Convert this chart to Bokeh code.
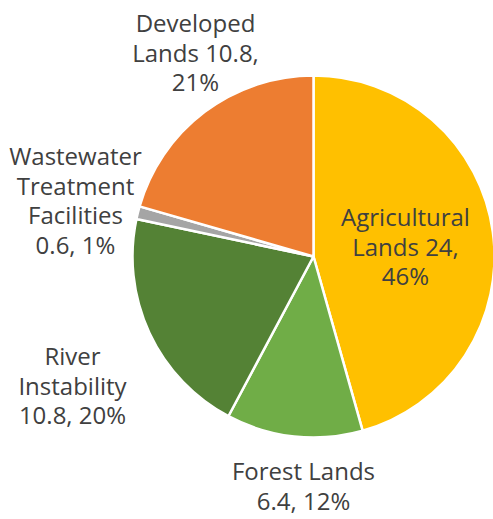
import numpy as np
from bokeh.plotting import figure
from bokeh.models import Range1d, ColumnDataSource
from bokeh.core.properties import value
from bokeh.embed import file_html
from bokeh.resources import INLINE

# ---- data ----
categories = ["Agricultural Lands", "Forest Lands", "River Instability",
              "Wastewater Treatment Facilities", "Developed Lands"]
values = [24, 6.4, 10.8, 0.6, 10.8]
percent_labels = ["46%", "12%", "20%", "1%", "21%"]
colors = ["#FFC000", "#70AD47", "#548235", "#A5A5A5", "#ED7D31"]
label_lines = [
    ["Agricultural", "Lands 24,", "46%"],
    ["Forest Lands", "6.4, 12%"],
    ["River", "Instability", "10.8, 20%"],
    ["Wastewater", "Treatment", "Facilities", "0.6, 1%"],
    ["Developed", "Lands 10.8,", "21%"],
]

# ---- layout (reference pixel coordinates) ----
W, H = 493, 519
cx, cy_ref, R = 313, 256, 181
label_pos = [(405, 224), (303, 478), (72, 363), (75, 163), (195, 30)]  # center x, first baseline (ref y)
LINE_H = 29.7
BASE_SHIFT = 8

p = figure(width=W, height=H, output_backend="svg", toolbar_location=None,
           x_axis_type=None, y_axis_type=None, min_border=0,
           x_range=Range1d(0, W), y_range=Range1d(0, H))
p.outline_line_color = None
p.grid.visible = False
p.background_fill_color = "white"
p.border_fill_color = "white"

vals = np.array(values, dtype=float)
frac = vals / vals.sum()
ends = np.pi / 2 - 2 * np.pi * np.cumsum(frac)
starts = np.concatenate([[np.pi / 2], ends[:-1]])

src = ColumnDataSource(dict(start=starts, end=ends, color=colors, cat=categories))
p.wedge(x=cx, y=H - cy_ref, radius=R, start_angle="start", end_angle="end",
        direction="clock", fill_color="color", line_color="white", line_width=2.5,
        source=src)

tx, ty, tt = [], [], []
for (lx, ly), lines in zip(label_pos, label_lines):
    for i, t in enumerate(lines):
        tx.append(lx)
        ty.append(H - (ly - BASE_SHIFT + i * LINE_H))
        tt.append(t)
p.text(x=tx, y=ty, text=tt, text_align="center", text_baseline="alphabetic",
       text_font=value("Open Sans"), text_font_size="24px", text_color="#404040")

open("out.html", "w").write(file_html(p, INLINE))
